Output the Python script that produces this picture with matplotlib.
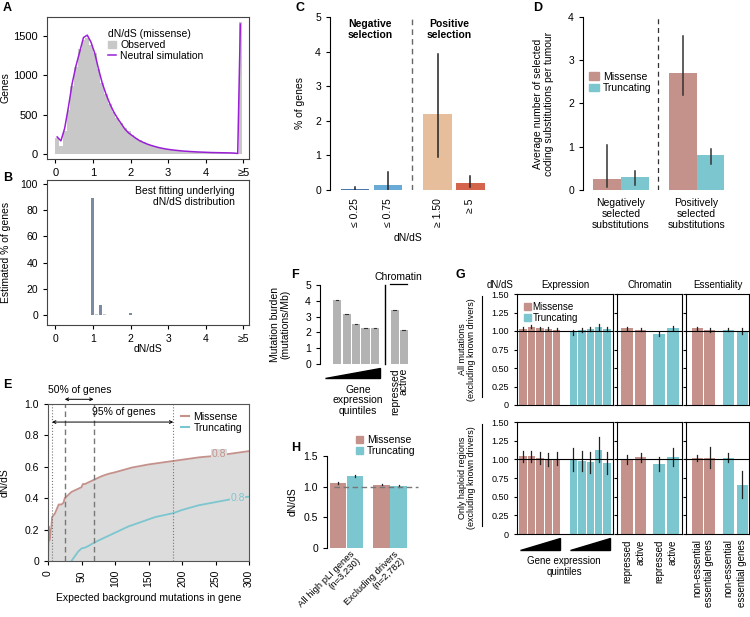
import numpy as np
import matplotlib
matplotlib.use('Agg')
import matplotlib.pyplot as plt
from matplotlib.patches import Polygon, Patch
from matplotlib.lines import Line2D

plt.rcParams['font.family'] = ['Liberation Sans', 'DejaVu Sans']
plt.rcParams['font.size'] = 7
plt.rcParams['axes.linewidth'] = 0.8
plt.rcParams['xtick.major.size'] = 3
plt.rcParams['ytick.major.size'] = 3
plt.rcParams['xtick.major.width'] = 0.8
plt.rcParams['ytick.major.width'] = 0.8

MIS = '#c4918b'
TRU = '#7cc6cf'

# ---- A: dN/dS histogram (missense) ----
a_observed = [210, 110, 300, 560, 870, 1100, 1330, 1450, 1480, 1390,
              1280, 1080, 900, 760, 640, 540, 460, 390, 330, 290,
              245, 210, 180, 155, 135, 118, 103, 90, 80, 71,
              63, 56, 50, 45, 41, 37, 34, 31, 29, 27,
              25, 23, 22, 21, 20, 19, 18, 17, 16]
a_neutral = [220, 170, 330, 600, 900, 1120, 1300, 1480, 1510, 1420,
             1280, 1080, 900, 760, 640, 540, 460, 390, 320, 270,
             235, 200, 170, 148, 128, 112, 98, 85, 75, 66,
             59, 53, 48, 43, 39, 36, 33, 30, 28, 26,
             24, 22, 21, 20, 19, 18, 17, 15, 10]
a_over5_observed = 1680
a_over5_neutral = 1650
a_ticklabels = ['0', '1', '2', '3', '4', '≥5']

# ---- B: best fitting underlying distribution ----
b_dnds = [0.0, 0.1, 0.2, 0.3, 0.4, 0.5, 0.6, 0.7, 0.8, 0.9, 1.0, 1.1, 1.2, 1.3,
          1.5, 2.0, 3.0, 4.0, 5.0]
b_pct = [0.2, 0.2, 0.2, 0.2, 0.2, 0.2, 0.2, 0.2, 0.2, 0.2, 89, 0.7, 7.5, 0.8,
         0.2, 1.5, 0.3, 0.2, 0.3]

# ---- C: % of genes under selection ----
c_labels = ['≤ 0.25', '≤ 0.75', '≥ 1.50', '≥ 5']
c_pct = [0.03, 0.15, 2.2, 0.2]
c_low = [0.0, 0.0, 0.95, 0.1]
c_high = [0.08, 0.52, 3.92, 0.4]
c_colors = ['#4a78b0', '#6aaad6', '#e6be9c', '#d4654c']

# ---- D: selected substitutions per tumour ----
d_groups = ['Negatively\nselected\nsubstitutions', 'Positively\nselected\nsubstitutions']
d_missense = [0.25, 2.7]
d_missense_low = [0.08, 2.2]
d_missense_high = [1.03, 3.55]
d_trunc = [0.3, 0.8]
d_trunc_low = [0.12, 0.6]
d_trunc_high = [0.43, 0.95]

# ---- E: dN/dS vs expected background mutations ----
e_mis_x = [0, 1, 2, 3, 4, 5, 6, 8, 10, 12, 14, 16, 20, 23, 25, 30, 35, 40, 45, 50,
           52, 55, 60, 65, 70, 80, 90, 100, 125, 150, 175, 200, 225, 250, 275, 300]
e_mis_y = [0, 0.22, 0.13, 0.15, 0.20, 0.21, 0.28, 0.29, 0.30, 0.32, 0.34, 0.36, 0.36,
           0.37, 0.40, 0.42, 0.44, 0.45, 0.46, 0.47, 0.49, 0.49, 0.50, 0.51, 0.52, 0.54,
           0.555, 0.565, 0.595, 0.615, 0.63, 0.645, 0.66, 0.67, 0.685, 0.70]
e_tru_x = [35, 40, 45, 50, 55, 60, 68, 80, 100, 120, 140, 160, 187, 200, 225, 250, 275, 300]
e_tru_y = [0, 0.03, 0.06, 0.08, 0.085, 0.095, 0.115, 0.14, 0.18, 0.22, 0.25, 0.28,
           0.305, 0.325, 0.355, 0.375, 0.395, 0.41]
e_q50 = [25, 68]
e_q95 = [6, 187]

# ---- F: mutation burden ----
f_expr = [4.02, 3.18, 2.52, 2.26, 2.26]
f_chrom = [3.42, 2.15]
f_chrom_labels = ['repressed', 'active']

# ---- G: dN/dS by expression / chromatin / essentiality ----
g_all_expr_mis = [1.03, 1.06, 1.04, 1.03, 1.02]
g_all_expr_mis_err = [0.02, 0.02, 0.02, 0.02, 0.02]
g_all_expr_tru = [0.98, 1.01, 1.03, 1.05, 1.03]
g_all_expr_tru_err = [0.03, 0.03, 0.03, 0.04, 0.03]
g_all_chrom = [1.04, 1.02, 0.96, 1.04]
g_all_chrom_err = [0.02, 0.02, 0.03, 0.03]
g_all_ess = [1.04, 1.01, 1.02, 1.00]
g_all_ess_err = [0.02, 0.03, 0.02, 0.04]
g_hap_expr_mis = [1.04, 1.04, 1.02, 1.00, 1.01]
g_hap_expr_mis_err = [0.07, 0.07, 0.08, 0.09, 0.09]
g_hap_expr_tru = [1.00, 0.98, 0.96, 1.13, 0.95]
g_hap_expr_tru_err = [0.15, 0.13, 0.14, 0.17, 0.15]
g_hap_chrom = [1.00, 1.03, 0.94, 1.03]
g_hap_chrom_err = [0.06, 0.06, 0.09, 0.12]
g_hap_ess = [1.02, 1.02, 1.02, 0.66]
g_hap_ess_err = [0.04, 0.14, 0.06, 0.18]
g_chrom_labels = ['repressed', 'active', 'repressed', 'active']
g_ess_labels = ['non-essential', 'essential genes', 'non-essential', 'essential genes']

# ---- H: high pLI genes ----
h_groups = ['All high pLI genes\n(n=3,230)', 'Excluding drivers\n(n=2,782)']
h_missense = [1.06, 1.03]
h_missense_err = [0.02, 0.01]
h_trunc = [1.17, 1.01]
h_trunc_err = [0.02, 0.02]

W, H = 750, 617
fig = plt.figure(figsize=(7.5, 6.17), dpi=100)


def box(l, t, r, b):
    return fig.add_axes([l / W, 1 - b / H, (r - l) / W, (b - t) / H])


def only_left(ax):
    for s in ['top', 'right', 'bottom']:
        ax.spines[s].set_visible(False)


def letter(x, y, s):
    fig.text(x / W, 1 - y / H, s, fontsize=9, fontweight='bold', va='center', ha='left')


# ---------------- A ----------------
ax = box(47, 17, 249, 159)
a_bins = np.arange(len(a_observed)) * 0.1 + 0.05
ax.bar(a_bins, a_observed, width=0.1, color='#c8c8c8', linewidth=0)
ax.bar(4.92, a_over5_observed, width=0.08, color='#c8c8c8', linewidth=0)
ax.plot(list(a_bins) + [4.92], a_neutral + [a_over5_neutral], color='#9a1fd6', lw=1.1)
ax.set_xlim(-0.22, 5.15)
ax.set_ylim(-60, 1740)
ax.set_xticks([0, 1, 2, 3, 4, 5])
ax.set_xticklabels(a_ticklabels)
ax.set_yticks([0, 500, 1000, 1500])
ax.tick_params(labelsize=8)
ax.set_ylabel('Genes', fontsize=7.5)
ax.yaxis.set_label_coords(-0.18, 0.5)
for s in ax.spines.values():
    s.set_color('#444444')
hands = [Patch(color='#c8c8c8'), Line2D([], [], color='#9a1fd6', lw=1.1)]
leg = ax.legend(hands, ['Observed', 'Neutral simulation'], title='dN/dS (missense)',
                loc='upper left', bbox_to_anchor=(0.27, 0.96), frameon=False,
                fontsize=7.5, title_fontsize=7.5, handlelength=0.8, handletextpad=0.4,
                labelspacing=0.1, borderpad=0.1)
leg._legend_box.align = 'left'

# ---------------- B ----------------
ax = box(47, 180, 249, 325)
b_cols = ['#7b8ba3' if v > 1 else '#c9d0da' for v in b_pct]
ax.bar(b_dnds, b_pct, width=0.085, color=b_cols, linewidth=0)
ax.set_xlim(-0.22, 5.15)
ax.set_ylim(-7.6, 102.9)
ax.set_xticks([0, 1, 2, 3, 4, 5])
ax.set_xticklabels(a_ticklabels)
ax.set_yticks([0, 20, 40, 60, 80, 100])
ax.tick_params(labelsize=7.5)
ax.set_xlabel('dN/dS', fontsize=7.5, labelpad=0)
ax.set_ylabel('Estimated % of genes', fontsize=7.5)
ax.yaxis.set_label_coords(-0.18, 0.5)
for s in ax.spines.values():
    s.set_color('#444444')
ax.text(0.93, 0.96, 'Best fitting underlying\ndN/dS distribution', transform=ax.transAxes,
        ha='right', va='top', fontsize=7.5, linespacing=1.1)

# ---------------- C ----------------
ax = box(330, 17, 485, 190)
only_left(ax)
c_pos = [0, 1, 2.5, 3.5]
ax.bar(c_pos, c_pct, width=0.85, color=c_colors, linewidth=0)
for x, lo, hi in zip(c_pos, c_low, c_high):
    ax.plot([x, x], [lo, hi], color='#222222', lw=1.1)
ax.axvline(1.73, color='#666666', ls=(0, (4, 3)), lw=1)
ax.set_xlim(-0.76, 3.94)
ax.set_ylim(0, 5)
ax.set_yticks([0, 1, 2, 3, 4, 5])
ax.set_xticks(c_pos)
ax.set_xticklabels(c_labels, rotation=90, fontsize=7.5)
ax.tick_params(axis='x', length=0, pad=6)
ax.tick_params(axis='y', labelsize=7.5)
ax.set_xlabel('dN/dS', fontsize=7.5, labelpad=4)
ax.set_ylabel('% of genes', fontsize=7.5)
ax.yaxis.set_label_coords(-0.16, 0.5)
ax.text(0.45, 4.95, 'Negative\nselection', ha='center', va='top', fontweight='bold', fontsize=7.5)
ax.text(2.85, 4.95, 'Positive\nselection', ha='center', va='top', fontweight='bold', fontsize=7.5)

# ---------------- D ----------------
ax = box(583, 17, 727, 190)
only_left(ax)
d_mpos = np.array([0, 2.7])
ax.bar(d_mpos, d_missense, width=1, color=MIS, linewidth=0)
ax.bar(d_mpos + 1, d_trunc, width=1, color=TRU, linewidth=0)
for x, lo, hi in zip(d_mpos, d_missense_low, d_missense_high):
    ax.plot([x, x], [lo, hi], color='#333333', lw=1.1)
for x, lo, hi in zip(d_mpos + 1, d_trunc_low, d_trunc_high):
    ax.plot([x, x], [lo, hi], color='#333333', lw=1.1)
ax.axvline(1.82, color='#333333', ls=(0, (4, 3)), lw=0.9)
ax.set_xlim(-0.86, 4.29)
ax.set_ylim(0, 4)
ax.set_yticks([0, 1, 2, 3, 4])
ax.set_xticks(d_mpos + 0.5)
ax.set_xticklabels(d_groups, fontsize=7.5, linespacing=1.1)
ax.tick_params(axis='x', length=0, pad=6)
ax.tick_params(axis='y', labelsize=7.5)
ax.set_ylabel('Average number of selected\ncoding substitutions per tumour', fontsize=7.5)
ax.yaxis.set_label_coords(-0.2, 0.5)
ax.legend([Patch(color=MIS), Patch(color=TRU)], ['Missense', 'Truncating'],
          loc='upper left', bbox_to_anchor=(0.0, 0.72), frameon=False, fontsize=7.5,
          handlelength=0.9, handletextpad=0.4, labelspacing=0.15, borderpad=0.1)

# ---------------- E ----------------
ax = box(48, 404, 249, 561)
ax.fill_between(e_mis_x, 0, e_mis_y, color='#dcdcdc', linewidth=0)
ax.plot(e_mis_x, e_mis_y, color=MIS, lw=1.3)
ax.plot(e_tru_x, e_tru_y, color=TRU, lw=1.3)
for x in e_q95:
    ax.axvline(x, color='#777777', ls=':', lw=0.8)
for x in e_q50:
    ax.axvline(x, color='#777777', ls=(0, (4, 2.5)), lw=1)
ax.annotate('', xy=(e_q95[0], 0.885), xytext=(e_q95[1], 0.885),
            arrowprops=dict(arrowstyle='<->', lw=0.7, color='black', mutation_scale=5,
                            shrinkA=0, shrinkB=0))
ax.text(113, 0.915, '95% of genes', ha='center', va='bottom', fontsize=7.5)
ax.annotate('', xy=(e_q50[0], 1.03), xytext=(e_q50[1], 1.03),
            arrowprops=dict(arrowstyle='<->', lw=0.7, color='black', mutation_scale=5,
                            shrinkA=0, shrinkB=0), annotation_clip=False)
ax.text(48, 1.06, '50% of genes', ha='center', va='bottom', fontsize=7.5, clip_on=False)
ax.text(255, 0.68, '0.8', color=MIS, ha='center', va='center', fontsize=7.5,
        bbox=dict(fc='#dcdcdc', ec='none', pad=0.3))
ax.text(283, 0.40, '0.8', color=TRU, ha='center', va='center', fontsize=7.5,
        bbox=dict(fc='#dcdcdc', ec='none', pad=0.3))
ax.set_xlim(0, 300)
ax.set_ylim(0, 1)
ax.set_xticks([0, 50, 100, 150, 200, 250, 300])
ax.set_xticklabels(['0', '50', '100', '150', '200', '250', '300'], rotation=90)
ax.set_yticks([0, 0.2, 0.4, 0.6, 0.8, 1.0])
ax.set_yticklabels(['0', '0.2', '0.4', '0.6', '0.8', '1.0'])
ax.tick_params(labelsize=7.5)
ax.set_xlabel('Expected background mutations in gene', fontsize=7.5)
ax.set_ylabel('dN/dS', fontsize=7.5)
ax.yaxis.set_label_coords(-0.19, 0.5)
for s in ax.spines.values():
    s.set_color('#555555')
ax.legend([Line2D([], [], color=MIS, lw=1.5), Line2D([], [], color=TRU, lw=1.5)],
          ['Missense', 'Truncating'], loc='upper left', bbox_to_anchor=(0.63, 0.99),
          frameon=False, fontsize=7.5, handlelength=0.8, handletextpad=0.4,
          labelspacing=0.1, borderpad=0.1)

# ---------------- F ----------------
ax = box(320, 285, 410, 364)
only_left(ax)
f_epos = np.arange(len(f_expr))
f_cpos = np.array([6.1, 7.05])
ax.bar(f_epos, f_expr, width=0.85, color='#b3b3b3', linewidth=0)
ax.bar(f_cpos, f_chrom, width=0.85, color='#b3b3b3', linewidth=0)
for x, v in list(zip(f_epos, f_expr)) + list(zip(f_cpos, f_chrom)):
    ax.plot([x - 0.15, x + 0.15], [v, v], color='#333333', lw=0.8)
ax.plot([5.05, 5.05], [0, 5], color='black', lw=1, clip_on=False)
ax.set_xlim(-1.8, 7.7)
ax.set_ylim(0, 5)
ax.set_yticks([0, 1, 2, 3, 4, 5])
ax.tick_params(axis='y', labelsize=7.5)
ax.set_xticks([])
ax.set_ylabel('Mutation burden\n(mutations/Mb)', fontsize=7.5, linespacing=1.1)
ax.yaxis.set_label_coords(-0.33, 0.5)
ax.add_patch(Polygon([[f_epos[0] - 1.3, -0.9], [f_epos[-1] + 0.5, -0.9], [f_epos[-1] + 0.5, -0.25]],
                     closed=True, color='black', clip_on=False))
ax.text(2.2, -1.3, 'Gene\nexpression\nquintiles', ha='center', va='top', fontsize=7.5,
        linespacing=1.1)
for x, lab in zip(f_cpos, f_chrom_labels):
    ax.text(x, -0.25, lab, rotation=90, ha='center', va='top', fontsize=7.5)
ax.text(6.5, 5.2, 'Chromatin', ha='center', va='bottom', fontsize=7.5, clip_on=False)
ax.plot([5.6, 7.4], [5.05, 5.05], color='black', lw=0.9, clip_on=False)

# ---------------- G ----------------
g_rows = [(294, 405, g_all_expr_mis, g_all_expr_mis_err, g_all_expr_tru, g_all_expr_tru_err,
           g_all_chrom, g_all_chrom_err, g_all_ess, g_all_ess_err),
          (422, 534, g_hap_expr_mis, g_hap_expr_mis_err, g_hap_expr_tru, g_hap_expr_tru_err,
           g_hap_chrom, g_hap_chrom_err, g_hap_ess, g_hap_ess_err)]
g_row_labels = ['All mutations\n(excluding known drivers)',
                'Only haploid regions\n(excluding known drivers)']
pair_cols = [MIS, MIS, TRU, TRU]


def g_panel(ax, pos, vals, errs, cols, xlim):
    ax.bar(pos, vals, width=0.88, color=cols, linewidth=0)
    for x, v, e in zip(pos, vals, errs):
        ax.plot([x, x], [v - e, v + e], color='#222222', lw=0.9)
    ax.axhline(1.0, color='black', lw=0.8)
    ax.set_xlim(*xlim)
    ax.set_ylim(0, 1.5)
    ax.set_yticks([0, 0.25, 0.5, 0.75, 1.0, 1.25, 1.5])
    ax.set_xticks([])
    ax.tick_params(axis='y', labelsize=6.5, length=2.5)


for ri, row in enumerate(g_rows):
    top, bot, em, eme, et, ete, ch, che, es, ese = row
    ax1 = box(517, top, 613, bot)
    g_panel(ax1, list(range(5)) + list(range(6, 11)), em + et, eme + ete,
            [MIS] * 5 + [TRU] * 5, (-0.71, 10.7))
    ax1.set_yticklabels(['0', '0.25', '0.50', '0.75', '1.00', '1.25', '1.50'])
    ax2 = box(617, top, 682, bot)
    g_panel(ax2, [0, 1, 2.4, 3.4], ch, che, pair_cols, (-0.74, 4.07))
    ax2.set_yticklabels([])
    ax3 = box(686, top, 749, bot)
    g_panel(ax3, [0, 1, 2.5, 3.6], es, ese, pair_cols, (-0.88, 4.16))
    ax3.set_yticklabels([])
    # row label with bracket
    mid = (top + bot) / 2
    fig.text(467 / W, 1 - mid / H, g_row_labels[ri], rotation=90, ha='center', va='center',
             fontsize=6.5, linespacing=1.1)
    fig.add_artist(Line2D([482 / W, 482 / W], [1 - (top + 2) / H, 1 - (bot - 8) / H],
                          color='black', lw=0.8))
    if ri == 0:
        ax1.legend([Patch(color=MIS), Patch(color=TRU)], ['Missense', 'Truncating'],
                   loc='upper left', bbox_to_anchor=(0.0, 0.99), frameon=False, fontsize=7,
                   handlelength=0.7, handletextpad=0.2, labelspacing=0.1, borderpad=0.2)
        ax1.set_title('Expression', fontsize=7, pad=4)
        ax2.set_title('Chromatin', fontsize=7, pad=4)
        ax3.set_title('Essentiality', fontsize=7, pad=4)
        ax1.text(-0.18, 1.04, 'dN/dS', transform=ax1.transAxes, ha='center', va='bottom',
                 fontsize=7)
    else:
        for x0 in (0, 6):
            ax1.add_patch(Polygon([[x0 - 0.4, -0.22], [x0 + 4.4, -0.22], [x0 + 4.4, -0.06]],
                                  closed=True, color='black', clip_on=False))
        ax1.text(4.9, -0.3, 'Gene expression\nquintiles', ha='center', va='top', fontsize=7,
                 linespacing=1.1)
        for x, lab in zip([0, 1, 2.4, 3.4], g_chrom_labels):
            ax2.text(x, -0.07, lab, rotation=90, ha='center', va='top', fontsize=7)
        for x, lab in zip([0, 1, 2.5, 3.6], g_ess_labels):
            ax3.text(x, -0.07, lab, rotation=90, ha='center', va='top', fontsize=7)

# ---------------- H ----------------
ax = box(327, 456, 407, 548)
only_left(ax)
h_mpos = np.array([0, 2.51])
ax.bar(h_mpos, h_missense, width=0.95, color=MIS, linewidth=0)
ax.bar(h_mpos + 0.98, h_trunc, width=0.95, color=TRU, linewidth=0)
for x, v, e in zip(list(h_mpos) + list(h_mpos + 0.98), h_missense + h_trunc,
                   h_missense_err + h_trunc_err):
    ax.plot([x, x], [v - e, v + e], color='#222222', lw=0.9)
ax.plot([-0.2, 4.6], [1, 1], color='#777777', ls=(0, (4, 2.5)), lw=1, clip_on=False)
ax.set_xlim(-0.63, 3.97)
ax.set_ylim(0, 1.5)
ax.set_yticks([0, 0.5, 1.0, 1.5])
ax.set_yticklabels(['0', '0.5', '1.0', '1.5'])
ax.tick_params(axis='y', labelsize=7.5)
ax.set_xticks(h_mpos + 0.7)
ax.set_xticklabels(h_groups, rotation=45, ha='right', rotation_mode='anchor', fontsize=6.8,
                   linespacing=1.0)
ax.tick_params(axis='x', length=0, pad=1)
ax.set_ylabel('dN/dS', fontsize=7.5)
ax.yaxis.set_label_coords(-0.37, 0.5)
ax.legend([Patch(color=MIS), Patch(color=TRU)], ['Missense', 'Truncating'],
          loc='lower left', bbox_to_anchor=(0.28, 0.93), frameon=False, fontsize=7.5,
          handlelength=0.7, handletextpad=0.4, labelspacing=0.1, borderpad=0.1)

letter(3, 8, 'A')
letter(3, 178, 'B')
letter(295, 8, 'C')
letter(533, 8, 'D')
letter(3, 385, 'E')
letter(291, 275, 'F')
letter(456, 275, 'G')
letter(291, 448, 'H')

fig.savefig('out.png', dpi=100)
